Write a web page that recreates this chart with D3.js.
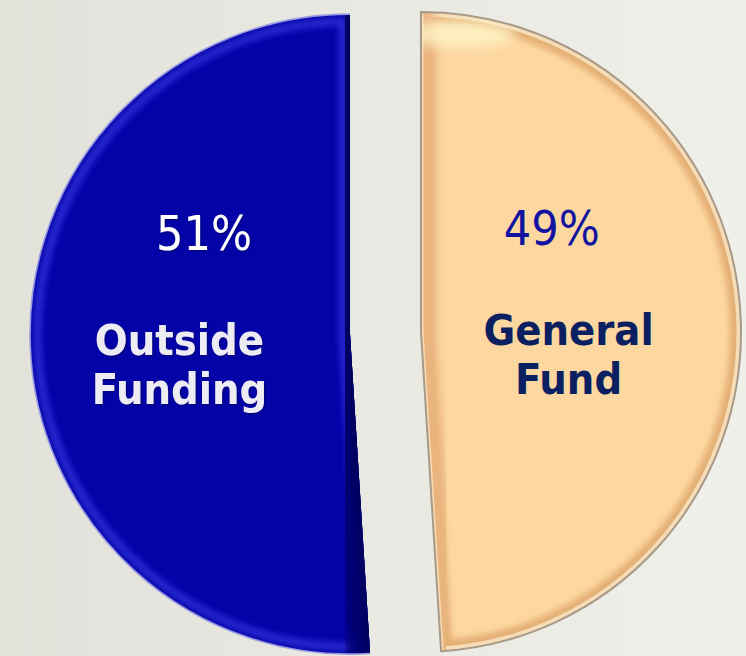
<!DOCTYPE html>
<html>
<head>
<meta charset="utf-8">
<script src="https://cdn.jsdelivr.net/npm/d3@7"></script>
<style>
  html, body { margin: 0; padding: 0; background: #ebebe5; }
  svg { display: block; }
</style>
</head>
<body>
<script>
// ---- data ----
const categories = ["General Fund", "Outside Funding"];
const values = [49, 51];
const pctLabels = ["49%", "51%"];
const nameLines = [["General", "Fund"], ["Outside", "Funding"]];

// ---- styles ----
const W = 746, H = 656;
const center = { x: 385.5, y: 333 };
const R = 320;
const explode = 35.5;
const fills = ["#FDD7A0", "#0303A8"];
const pctColors = ["#1212A0", "#FFFFFF"];
const nameColors = ["#0A2060", "#ECECF2"];
const FONT = "'DejaVu Sans Condensed', 'DejaVu Sans', Tahoma, sans-serif";

const svg = d3.select("body").append("svg").attr("width", W).attr("height", H);
const defs = svg.append("defs");

const bg = defs.append("linearGradient").attr("id", "bg").attr("x1", 0).attr("x2", 1).attr("y1", 0).attr("y2", 0);
bg.append("stop").attr("offset", 0).attr("stop-color", "#E2E2DB");
bg.append("stop").attr("offset", 1).attr("stop-color", "#F0F0EA");
svg.append("rect").attr("width", W).attr("height", H).attr("fill", "url(#bg)");

const blur = defs.append("filter").attr("id", "blur").attr("x", "-20%").attr("y", "-20%").attr("width", "140%").attr("height", "140%");
blur.append("feGaussianBlur").attr("stdDeviation", 3);
const blur2 = defs.append("filter").attr("id", "blur2").attr("x", "-20%").attr("y", "-20%").attr("width", "140%").attr("height", "140%");
blur2.append("feGaussianBlur").attr("stdDeviation", 6);
const tshadow = defs.append("filter").attr("id", "tshadow").attr("x", "-20%").attr("y", "-20%").attr("width", "140%").attr("height", "140%");
tshadow.append("feDropShadow").attr("dx", 1).attr("dy", 1).attr("stdDeviation", 0.8).attr("flood-color", "#000").attr("flood-opacity", 0.35);

const pie = d3.pie().sort(null).value(d => d).startAngle(0).endAngle(2 * Math.PI);
const arcs = pie(values);
const arc = d3.arc().innerRadius(0).outerRadius(R);

function polar(a, r) { return [Math.sin(a) * r, -Math.cos(a) * r]; }

arcs.forEach((d, i) => {
  const mid = (d.startAngle + d.endAngle) / 2;
  const [ox, oy] = polar(mid, explode);
  const g = svg.append("g").attr("transform", `translate(${center.x + ox},${center.y + oy})`);
  const path = arc(d);
  const clipId = "clip" + i;
  defs.append("clipPath").attr("id", clipId).append("path").attr("d", path);

  // base fill
  g.append("path").attr("d", path).attr("fill", fills[i]);

  const inner = g.append("g").attr("clip-path", `url(#${clipId})`);
  const [sx, sy] = polar(d.startAngle, R + 10);
  const [ex, ey] = polar(d.endAngle, R + 10);
  const radii = `M${sx},${sy}L0,0L${ex},${ey}`;

  if (i === 1) {
    // blue: lighter rim, dark straight edge
    inner.append("path").attr("d", path).attr("fill", "none")
      .attr("stroke", "#2B2BD6").attr("stroke-width", 22).attr("filter", "url(#blur)");
    inner.append("path").attr("d", path).attr("fill", "none")
      .attr("stroke", "#0303A0").attr("stroke-width", 7).attr("filter", "url(#blur)");
    inner.append("path").attr("d", radii).attr("fill", "none")
      .attr("stroke", "#00006E").attr("stroke-width", 44).attr("filter", "url(#blur2)");
    inner.append("path").attr("d", radii).attr("fill", "none")
      .attr("stroke", "#00005A").attr("stroke-width", 8).attr("filter", "url(#blur)");
    g.append("path").attr("d", d3.arc().innerRadius(R).outerRadius(R).startAngle(d.startAngle).endAngle(d.endAngle)())
      .attr("fill", "none").attr("stroke", "#9A9AE2").attr("stroke-width", 1.6);
  } else {
    // peach: tan rim, light highlight, darker straight edge
    inner.append("path").attr("d", path).attr("fill", "none")
      .attr("stroke", "#E2AE74").attr("stroke-width", 22).attr("filter", "url(#blur)");
    inner.append("path").attr("d", path).attr("fill", "none")
      .attr("stroke", "#F6DDB8").attr("stroke-width", 9);
    inner.append("path").attr("d", radii).attr("fill", "none")
      .attr("stroke", "#E9B47E").attr("stroke-width", 28).attr("filter", "url(#blur2)");
    inner.append("path").attr("d", radii).attr("fill", "none")
      .attr("stroke", "#F8DCB4").attr("stroke-width", 5);
    // top highlight
    inner.append("ellipse").attr("cx", 40).attr("cy", -R + 22).attr("rx", 55).attr("ry", 14)
      .attr("fill", "#FFF4C8").attr("opacity", 0.8).attr("filter", "url(#blur2)");
    g.append("path").attr("d", path).attr("fill", "none")
      .attr("stroke", "#A89A88").attr("stroke-width", 2);
  }

  // labels
  const side = i === 0 ? 1 : -1;
  const pctPos = polar(mid - side * 0.64, i === 0 ? 167 : 178);
  g.append("text")
    .attr("x", pctPos[0]).attr("y", pctPos[1]).attr("dy", "0.36em")
    .attr("text-anchor", "middle")
    .attr("font-family", FONT).attr("font-size", 48)
    .attr("fill", pctColors[i])
    .attr("filter", i === 1 ? "url(#tshadow)" : null)
    .text(pctLabels[i]);

  const namePos = polar(mid + side * (i === 0 ? 0.17 : 0.135), i === 0 ? 149 : 173);
  const t = g.append("text")
    .attr("x", namePos[0]).attr("y", namePos[1])
    .attr("text-anchor", "middle")
    .attr("font-family", FONT).attr("font-size", 43).attr("font-weight", "bold")
    .attr("fill", nameColors[i])
    .attr("filter", i === 1 ? "url(#tshadow)" : null);
  nameLines[i].forEach((ln, k) => {
    t.append("tspan").attr("x", namePos[0])
      .attr("dy", k === 0 ? "-0.18em" : "1.15em")
      .text(ln);
  });
});
</script>
</body>
</html>
